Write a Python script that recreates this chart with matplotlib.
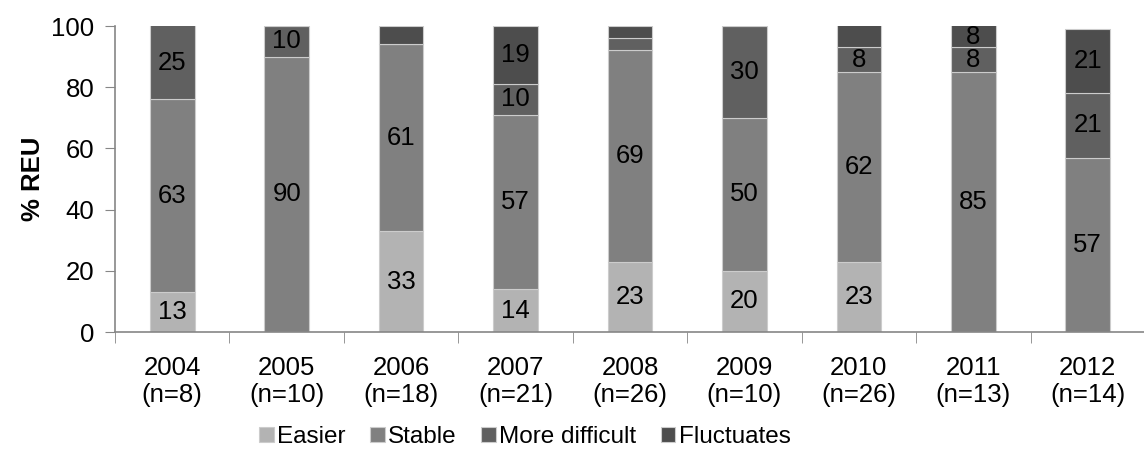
import numpy as np
import matplotlib.pyplot as plt

plt.rcParams['font.family'] = ['Liberation Sans', 'DejaVu Sans']

years = ['2004', '2005', '2006', '2007', '2008', '2009', '2010', '2011', '2012']
n_reu = [8, 10, 18, 21, 26, 10, 26, 13, 14]

easier = [13, 0, 33, 14, 23, 20, 23, 0, 0]
stable = [63, 90, 61, 57, 69, 50, 62, 85, 57]
more_difficult = [25, 10, 0, 10, 4, 30, 8, 8, 21]
fluctuates = [0, 0, 6, 19, 4, 0, 8, 8, 21]

# segments that carry no value label
unlabeled = {('Fluctuates', 2), ('More difficult', 4), ('Fluctuates', 4), ('Fluctuates', 6)}

series = [
    ('Easier', easier, '#b3b3b3'),
    ('Stable', stable, '#808080'),
    ('More difficult', more_difficult, '#606060'),
    ('Fluctuates', fluctuates, '#4d4d4d'),
]

fig = plt.figure(figsize=(11.44, 4.53), dpi=100)
ax = fig.add_axes([115 / 1144, 1 - 332 / 453, 1030 / 1144, 306 / 453])

x = np.arange(len(years))
bottom = np.zeros(len(years))
for name, vals, color in series:
    vals = np.array(vals, dtype=float)
    ax.bar(x, vals, width=0.39, bottom=bottom, color=color,
           edgecolor='#cccccc', linewidth=0.8, label=name)
    for i, v in enumerate(vals):
        if v <= 0 or (name, i) in unlabeled:
            continue
        top = min(bottom[i] + v, 100)
        ax.text(i, (bottom[i] + top) / 2, f'{int(v)}', ha='center', va='center',
                fontsize=18.5, color='black')
    bottom += vals

ax.set_xlim(-0.5, 8.5)
ax.set_ylim(0, 100)
ax.set_yticks(np.arange(0, 101, 20))
ax.tick_params(axis='y', labelsize=18.5, length=7, color='#868686', pad=8)
ax.set_xticks(x)
ax.set_xticklabels([f'{y}\n(n={n})' for y, n in zip(years, n_reu)], fontsize=18.5)
ax.tick_params(axis='x', which='major', length=0, pad=17)
ax.set_xticks(np.arange(-0.5, 8.6, 1), minor=True)
ax.tick_params(axis='x', which='minor', length=8, color='#868686')
for side in ['top', 'right']:
    ax.spines[side].set_visible(False)
for side in ['left', 'bottom']:
    ax.spines[side].set_color('#868686')
    ax.spines[side].set_linewidth(1.2)

ax.set_ylabel('% REU', fontsize=18.5, fontweight='bold', labelpad=4)

handles, labels = ax.get_legend_handles_labels()
fig.legend(handles, labels, loc='center', bbox_to_anchor=(525 / 1144, 1 - 437 / 453), ncol=4,
           frameon=False, fontsize=17.5, handlelength=0.6, handleheight=0.6,
           handletextpad=0.15, columnspacing=1.0)

fig.savefig('out.png', dpi=100)
